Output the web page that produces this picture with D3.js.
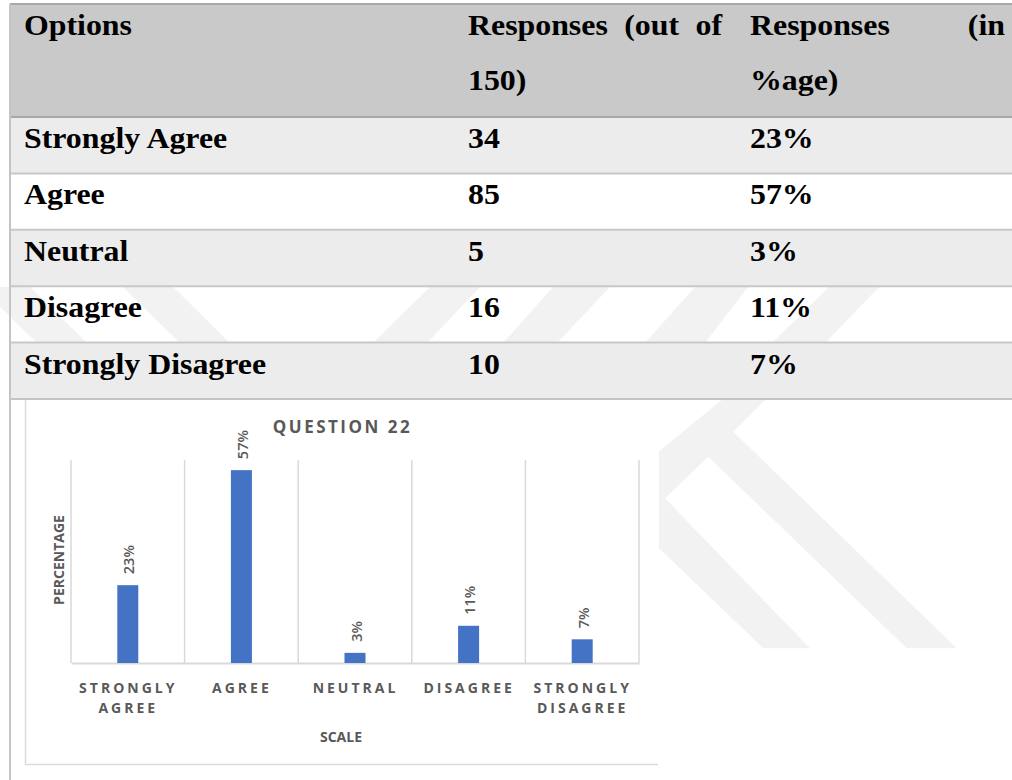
<!DOCTYPE html>
<html>
<head>
<meta charset="utf-8">
<script src="https://cdn.jsdelivr.net/npm/d3@7/dist/d3.min.js"></script>
<style>
  body { margin: 0; background: #fff; }
  svg { display: block; }
  .cell { font-family: "Liberation Serif", "Times New Roman", serif; font-weight: bold; font-size: 29.5px; fill: #000; }
  .ctext { font-family: "Open Sans", sans-serif; fill: #595959; }
</style>
</head>
<body>
<svg width="1012" height="780"></svg>
<script>
// table + chart data
const options = ['Strongly Agree', 'Agree', 'Neutral', 'Disagree', 'Strongly Disagree'];
const responses = [34, 85, 5, 16, 10];
const percentages = [23, 57, 3, 11, 7];
const headers = [
    {lines: [['Options']]},
    {lines: [['Responses', '(out', 'of'], ['150)']]},
    {lines: [['Responses', '(in'], ['%age)']]}
];
const axisLabels = [['STRONGLY', 'AGREE'], ['AGREE'], ['NEUTRAL'], ['DISAGREE'], ['STRONGLY', 'DISAGREE']];
const chartTitle = 'QUESTION 22';
const xTitle = 'SCALE';
const yTitle = 'PERCENTAGE';
const yDomain = [0, 60];

const svg = d3.select('svg');
const stretch = 1.08; // table text is a bit wider than tall in the scan
const colX = [24, 468, 750],
      colEnd = [null, 722, 1005],
      rowY = d3.scaleLinear().domain([0, options.length]).range([117, 399]);

drawWatermark();
drawTable();
drawChart();

function drawWatermark() {
    // faint logo shapes that show through the white rows
    let g = svg.append('g').attr('fill', '#f2f2f2');
    let shapes = [
        [[373, 343], [430, 287], [480, 287], [427, 343]],
        [[503, 343], [553, 287], [610, 287], [557, 343]],
        [[645, 343], [695, 287], [748, 287], [705, 343]],
        [[772, 343], [829, 287], [879, 287], [825, 343]],
        [[123, 287], [173, 287], [230, 343], [180, 343]],
        [[-20, 287], [30, 287], [87, 343], [37, 343]],
        [[640, 467], [721.7, 400], [765, 400], [733.3, 431.7], [956.7, 648.3], [906.7, 648.3],
         [708.3, 456.7], [665, 498.3], [810, 648.3], [763.3, 648.3], [640, 530]]
    ];
    g.selectAll('polygon')
        .data(shapes)
        .enter()
        .append('polygon')
        .attr('points', d => d.map(p => p.join(',')).join(' '));
}

function cellText(parent, x, y, str) {
    return parent.append('text')
        .attr('class', 'cell')
        .attr('transform', `translate(${x},${y}) scale(${stretch},1)`)
        .text(str);
}

function drawTable() {
    let table = svg.append('g').attr('id', 'table');

    // header band
    table.append('rect')
        .attr('x', 10).attr('y', 4)
        .attr('width', 1010).attr('height', 113)
        .attr('fill', '#c9c9c9');

    // banded rows
    table.selectAll('.row')
        .data(options)
        .enter()
        .append('rect')
        .attr('class', 'row')
        .attr('x', 10)
        .attr('y', (d, i) => rowY(i))
        .attr('width', 1010)
        .attr('height', (d, i) => rowY(i + 1) - rowY(i))
        .attr('fill', (d, i) => i % 2 === 0 ? '#ececec' : 'none');

    // separators
    table.selectAll('.sep')
        .data(d3.range(1, options.length + 1))
        .enter()
        .append('line')
        .attr('x1', 10).attr('x2', 1012)
        .attr('y1', i => rowY(i)).attr('y2', i => rowY(i))
        .attr('stroke', '#c8c8c8')
        .attr('stroke-width', 2);

    [4, 117].forEach(y => {
        table.append('line')
            .attr('x1', 10).attr('x2', 1012)
            .attr('y1', y).attr('y2', y)
            .attr('stroke', '#a8a8a8')
            .attr('stroke-width', 2);
    });

    // header text, justified like the word processor did it
    headers.forEach((h, c) => {
        h.lines.forEach((words, l) => {
            let y = 35 + l * 55;
            if (words.length === 1 || l === h.lines.length - 1 && l > 0) {
                cellText(table, colX[c], y, words.join(' '));
                return;
            }
            let nodes = words.map(w => cellText(table, 0, y, w));
            let widths = nodes.map(n => n.node().getComputedTextLength() * stretch);
            let gap = (colEnd[c] - colX[c] - d3.sum(widths)) / (words.length - 1);
            let x = colX[c];
            nodes.forEach((n, i) => {
                n.attr('transform', `translate(${x},${y}) scale(${stretch},1)`);
                x += widths[i] + gap;
            });
        });
    });

    // body text
    options.forEach((opt, i) => {
        let y = rowY(i) + 31;
        cellText(table, colX[0], y, opt);
        cellText(table, colX[1], y, responses[i]);
        cellText(table, colX[2], y, percentages[i] + '%');
    });
}

function drawChart() {
    let chart = svg.append('g').attr('id', 'chart');

    // chart picture background and frame
    chart.append('rect')
        .attr('x', 11).attr('y', 400)
        .attr('width', 648).attr('height', 380)
        .attr('fill', '#fff');
    chart.append('path')
        .attr('d', 'M25.5,400V764.5H658')
        .attr('fill', 'none')
        .attr('stroke', '#dcdcdc')
        .attr('stroke-width', 1.5);

    // table bottom border + left border drawn on top
    svg.append('line')
        .attr('x1', 10).attr('x2', 1012).attr('y1', 399).attr('y2', 399)
        .attr('stroke', '#c4c4c4').attr('stroke-width', 2);
    svg.append('line')
        .attr('x1', 10).attr('x2', 10).attr('y1', 4).attr('y2', 780)
        .attr('stroke', '#c4c4c4').attr('stroke-width', 2);

    let xScale = d3.scaleBand().domain(options).range([71, 639]),
        yScale = d3.scaleLinear().domain(yDomain).range([663, 460]);

    // vertical gridlines between categories
    let edges = options.map(d => xScale(d)).concat([xScale.range()[1]]);
    chart.selectAll('.grid')
        .data(edges)
        .enter()
        .append('line')
        .attr('x1', d => d).attr('x2', d => d)
        .attr('y1', yScale(yDomain[1])).attr('y2', yScale(0))
        .attr('stroke', '#d9d9d9')
        .attr('stroke-width', 1.5);

    // category axis
    let xAxis = chart.append('g')
        .attr('transform', `translate(0, ${yScale(0)})`)
        .call(d3.axisBottom(xScale).tickSize(0).tickSizeOuter(0));
    xAxis.select('.domain')
        .attr('stroke', '#d9d9d9')
        .attr('stroke-width', 2);
    xAxis.selectAll('.tick text').remove();
    xAxis.selectAll('.tick')
        .append('text')
        .attr('class', 'ctext')
        .attr('text-anchor', 'middle')
        .style('font-size', '14px')
        .style('font-weight', 'bold')
        .style('letter-spacing', '3px')
        .selectAll('tspan')
        .data((d, i) => axisLabels[i])
        .enter()
        .append('tspan')
        .attr('x', 0.5)
        .attr('y', (d, i) => 29.7 + i * 20)
        .text(d => d);

    let bw = 21;
    chart.selectAll('.bar')
        .data(percentages)
        .enter()
        .append('rect')
        .attr('class', 'bar')
        .attr('x', (d, i) => xScale(options[i]) + xScale.bandwidth() / 2 - bw / 2)
        .attr('y', d => yScale(d))
        .attr('width', bw)
        .attr('height', d => yScale(0) - yScale(d))
        .attr('fill', '#4472c4');

    chart.selectAll('.lbl')
        .data(percentages)
        .enter()
        .append('text')
        .attr('class', 'ctext')
        .attr('transform', (d, i) => {
            let cx = xScale(options[i]) + xScale.bandwidth() / 2;
            return `translate(${cx + 6.5},${yScale(d) - 11}) rotate(-90)`;
        })
        .style('font-size', '14.5px')
        .style('font-weight', 600)
        .text(d => d + '%');

    chart.append('text')
        .attr('class', 'ctext')
        .attr('x', 342.5).attr('y', 432.5)
        .attr('text-anchor', 'middle')
        .style('font-size', '17px')
        .style('font-weight', 'bold')
        .style('letter-spacing', '2.5px')
        .text(chartTitle);

    chart.append('text')
        .attr('class', 'ctext')
        .attr('x', 341).attr('y', 742)
        .attr('text-anchor', 'middle')
        .style('font-size', '14px')
        .style('font-weight', 'bold')
        .text(xTitle);

    chart.append('text')
        .attr('class', 'ctext')
        .attr('transform', 'translate(64,560) rotate(-90)')
        .attr('text-anchor', 'middle')
        .style('font-size', '14px')
        .style('font-weight', 'bold')
        .text(yTitle);
}
</script>
</body>
</html>
